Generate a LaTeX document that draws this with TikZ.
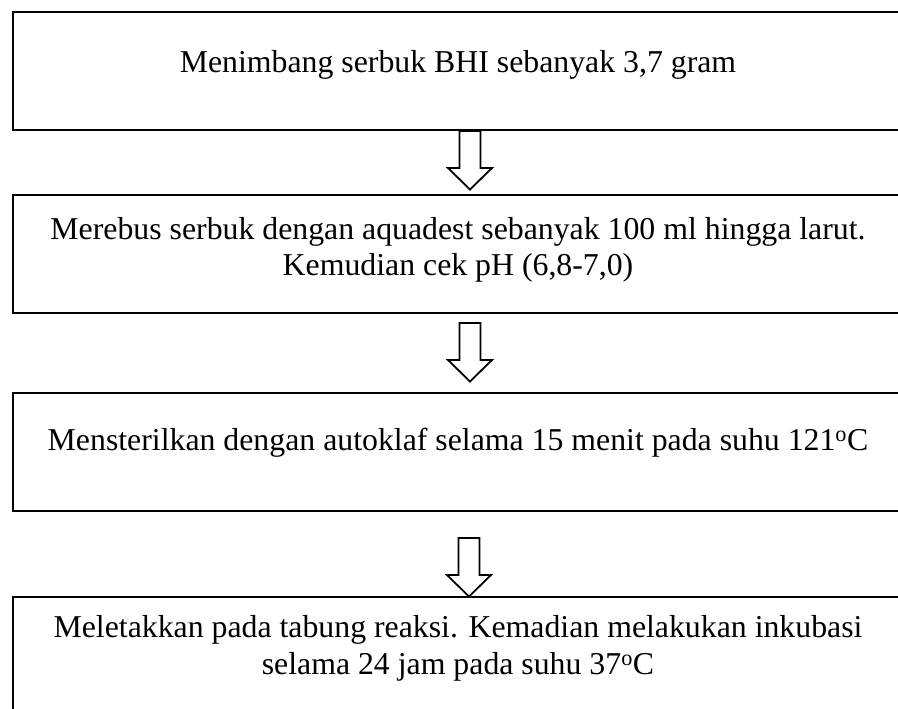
\documentclass[tikz,border=0pt]{standalone}
\usepackage{fontspec}
\setmainfont{Liberation Serif}
\usetikzlibrary{positioning,calc}

\newcommand{\hollowarrow}[1]{%
  \draw[arrowline] ($(#1)+(-10.5,0)$) -- ++(0,37) -- ++(-11.5,0) -- ++(22,21.5)
  -- ++(22,-21.5) -- ++(-11.5,0) -- ++(0,-37) -- cycle;}

\begin{document}
\begin{tikzpicture}[x=1pt,y=-1pt,
  node distance = 63pt,
  box/.style = {draw,line width=2pt,minimum width=890pt,minimum height=118pt,
  inner sep=0pt,align=center,font=\fontsize{31.8}{36.5}\selectfont},
  arrowline/.style = {line width=1.8pt,line join=miter}]
 \useasboundingbox (0,0) rectangle (898,709);
 \clip (0,0) rectangle (898,709);
 \node[box,text depth=19pt] (b1) at (458,71) {Menimbang serbuk BHI sebanyak 3,7 gram};
 \node[box,text depth=15pt,below=of b1] (b2) {Merebus serbuk dengan aquadest sebanyak 100 ml hingga larut.\\
  Kemudian cek pH (6,8-7,0)};
 \node[box,text depth=25pt,below=78pt of b2] (b3) {Mensterilkan dengan autoklaf selama 15 menit pada suhu 121\textsuperscript{o}C};
 \node[box,text depth=22pt,below=84pt of b3] (b4) {Meletakkan pada tabung reaksi. Kemadian melakukan inkubasi\\
  selama 24 jam pada suhu 37\textsuperscript{o}C};
 % block arrows between the steps
 \coordinate (a1) at ($(b1.south)+(12,0)$);
 \coordinate (a2) at ($(b2.south)+(12,9)$);
 \coordinate (a3) at ($(b3.south)+(11,26)$);
 \hollowarrow{a1}
 \hollowarrow{a2}
 \hollowarrow{a3}
\end{tikzpicture}
\end{document}
